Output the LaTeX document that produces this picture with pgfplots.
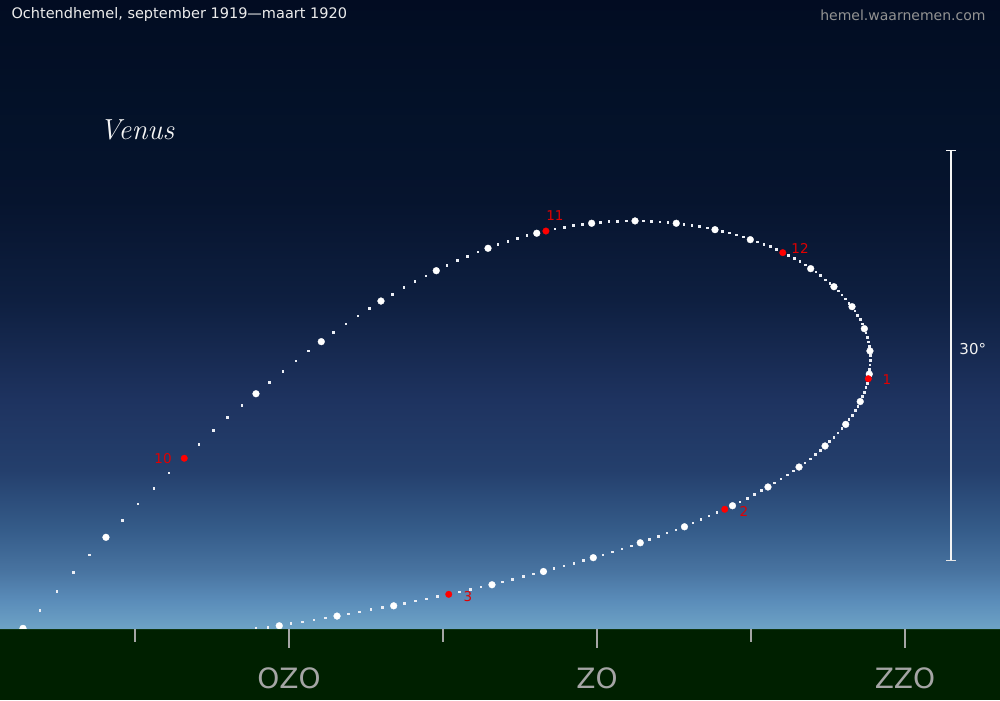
\documentclass[border=0pt]{standalone}
\usepackage{pgfplots}
\pgfplotsset{compat=1.18}
\usepackage{pgfplotstable}
\usepackage{fontspec}
\newfontfamily\dejavu{DejaVu Sans}
\definecolor{ground}{RGB}{0,32,0}
\definecolor{horizonline}{RGB}{14,52,16}
\definecolor{tickgray}{RGB}{165,165,165}
\definecolor{labred}{RGB}{225,0,0}
\definecolor{dotred}{RGB}{255,0,0}
\definecolor{smalldot}{RGB}{235,238,245}
\pgfdeclareverticalshading{sky}{100bp}{
 rgb(0bp)=(0.431,0.639,0.776);
 rgb(25bp)=(0.431,0.639,0.776);
 rgb(27.31bp)=(0.353,0.549,0.725);
 rgb(29.69bp)=(0.282,0.451,0.627);
 rgb(32.87bp)=(0.208,0.361,0.541);
 rgb(37.64bp)=(0.141,0.247,0.424);
 rgb(43.2bp)=(0.118,0.200,0.376);
 rgb(51.15bp)=(0.055,0.122,0.251);
 rgb(59.1bp)=(0.024,0.078,0.180);
 rgb(67.05bp)=(0.012,0.067,0.157);
 rgb(75bp)=(0.008,0.047,0.133);
 rgb(100bp)=(0.008,0.047,0.133)}

% Venus, azimuth (deg) and altitude (deg); big dots every 5 days
\pgfplotstableread{
az alt
93.07 0.05
99.13 6.71
110.09 17.21
114.86 21.02
119.22 23.99
123.26 26.21
127.04 27.85
130.60 28.95
134.61 29.68
137.78 29.85
140.79 29.68
143.62 29.21
146.20 28.48
150.61 26.36
152.31 25.04
153.63 23.58
154.53 21.97
154.94 20.34
154.89 18.65
154.23 16.64
153.17 14.97
151.66 13.39
149.76 11.85
147.49 10.39
144.90 9.02
141.39 7.48
138.16 6.31
134.73 5.22
131.09 4.21
127.33 3.24
120.15 1.70
116.01 0.95
111.79 0.24
}\bigdots

% first of each month: Oct, Nov, Dec, Jan, Feb, Mar
\pgfplotstableread{
az alt
104.85 12.49
131.27 29.11
148.57 27.53
154.82 18.31
144.33 8.76
124.17 2.54
}\reddots

% daily positions
\pgfplotstableread{
az alt
94.31 1.37
95.55 2.76
96.74 4.12
97.94 5.41
100.32 7.95
101.47 9.14
102.64 10.29
103.73 11.41
105.93 13.51
107.00 14.51
108.02 15.46
109.07 16.36
111.06 18.05
112.06 18.85
113.01 19.60
113.94 20.34
115.77 21.67
116.66 22.31
117.54 22.90
118.40 23.46
120.05 24.48
120.90 24.97
121.70 25.41
122.51 25.82
124.04 26.61
124.79 26.94
125.55 27.26
126.31 27.58
127.77 28.11
128.50 28.33
129.18 28.55
129.89 28.77
131.93 29.26
132.61 29.38
133.30 29.50
133.96 29.60
135.24 29.72
135.88 29.79
136.51 29.82
137.14 29.85
138.38 29.85
139.00 29.82
139.60 29.77
140.19 29.72
141.36 29.60
141.94 29.53
142.50 29.43
143.06 29.33
144.15 29.06
144.69 28.97
145.21 28.82
145.72 28.67
146.71 28.31
147.20 28.14
147.66 27.97
148.13 27.75
149.00 27.34
149.41 27.09
149.83 26.87
150.25 26.63
151.00 26.11
151.34 25.84
151.68 25.53
152.01 25.27
152.63 24.72
152.90 24.43
153.17 24.14
153.41 23.82
153.85 23.26
154.04 22.95
154.23 22.63
154.38 22.31
154.65 21.65
154.77 21.34
154.85 20.99
154.89 20.68
154.96 19.99
154.96 19.66
154.94 19.31
154.92 19.00
154.75 17.97
154.65 17.65
154.53 17.31
154.38 16.99
154.07 16.29
153.87 15.97
153.65 15.62
153.41 15.31
152.90 14.65
152.61 14.34
152.31 14.02
152.00 13.70
151.31 13.07
150.95 12.75
150.58 12.44
150.19 12.14
149.34 11.56
148.90 11.27
148.44 10.97
147.98 10.68
147.00 10.12
146.49 9.82
145.98 9.56
145.45 9.29
143.77 8.51
143.18 8.27
142.60 8.00
142.01 7.75
140.76 7.24
140.11 7.02
139.48 6.78
138.82 6.53
137.51 6.07
136.83 5.85
136.15 5.65
135.44 5.41
134.03 5.03
133.32 4.81
132.59 4.61
131.86 4.41
130.35 4.02
129.62 3.83
128.84 3.64
128.08 3.44
126.53 3.07
125.74 2.90
124.97 2.71
123.36 2.36
122.56 2.19
121.76 2.05
120.95 1.88
119.32 1.56
118.49 1.41
117.66 1.24
116.83 1.10
115.18 0.80
114.33 0.66
113.50 0.51
112.65 0.39
110.97 0.12
110.09 0.02
}\smalldots

\begin{document}
\begin{tikzpicture}
\begin{axis}[
  set layers=standard,
  width=1000pt, height=700pt, scale only axis,
  xmin=91.39, xmax=164.44, ymin=-5.19, ymax=46.01,
  axis line style={draw=none}, ticks=none,
  clip=true,
]
\begin{pgfonlayer}{axis background}
\shade[shading=sky] (axis cs:91.39,0) rectangle (axis cs:164.44,46.01);
\end{pgfonlayer}

\addplot[color=smalldot, only marks, mark=square*, mark size=0.8pt,
  mark options={color=smalldot, fill=smalldot, draw=smalldot, line width=0pt}] table[x=az,y=alt] {\smalldots};
\addplot[color=white, only marks, mark=*, mark size=3.4pt,
  mark options={color=white, fill=white, draw=white, line width=0.3pt}] table[x=az,y=alt] {\bigdots};
\addplot[color=dotred, only marks, mark=*, mark size=3.3pt,
  mark options={color=dotred, fill=dotred, draw=dotred, line width=0.3pt}] table[x=az,y=alt] {\reddots};

% month labels
\node[text=labred, font=\dejavu\fontsize{13.5}{15}\selectfont] at (axis cs:103.30,12.44) {10};
\node[text=labred, font=\dejavu\fontsize{13.5}{15}\selectfont] at (axis cs:131.93,30.21) {11};
\node[text=labred, font=\dejavu\fontsize{13.5}{15}\selectfont] at (axis cs:149.83,27.87) {12};
\node[text=labred, font=\dejavu\fontsize{13.5}{15}\selectfont] at (axis cs:156.18,18.21) {1};
\node[text=labred, font=\dejavu\fontsize{13.5}{15}\selectfont] at (axis cs:145.74,8.63) {2};
\node[text=labred, font=\dejavu\fontsize{13.5}{15}\selectfont] at (axis cs:125.58,2.41) {3};

% 30 degree scale bar
\draw[white!92!gray, line width=1.5pt] (axis cs:160.86,5) -- (axis cs:160.86,35);
\draw[white!92!gray, line width=1.5pt] (axis cs:160.50,35) -- (axis cs:161.22,35);
\draw[white!80!gray, line width=1.5pt] (axis cs:160.50,5) -- (axis cs:161.22,5);
\node[text=white!90!gray, font=\dejavu\fontsize{15}{17}\selectfont] at (axis cs:162.45,20.45) {30°};

% texts
\node[anchor=west, text=white!85!gray, font=\dejavu\fontsize{14.5}{16}\selectfont] at (rel axis cs:0.008,0.9786) {Ochtendhemel, september 1919—maart 1920};
\node[anchor=east, text=gray!85!white, font=\dejavu\fontsize{14}{16}\selectfont] at (rel axis cs:0.989,0.9786) {hemel.waarnemen.com};
\node[anchor=base west, text=white!92!gray, font=\itshape\fontsize{29}{32}\selectfont] at (rel axis cs:0.096,0.80) {Venus};

\begin{pgfonlayer}{axis foreground}
\fill[ground] (axis cs:91.39,-5.19) rectangle (axis cs:164.44,0);
\draw[horizonline, line width=1.5pt] (axis cs:91.39,-0.05) -- (axis cs:164.44,-0.05);
\pgfplotsinvokeforeach{101.25,123.75,146.25}{
  \draw[tickgray, line width=2.5pt] (axis cs:#1,0) -- (axis cs:#1,-0.95);
}
\pgfplotsinvokeforeach{112.5,135,157.5}{
  \draw[tickgray, line width=2.5pt] (axis cs:#1,0) -- (axis cs:#1,-1.42);
}
\node[text=tickgray, font=\dejavu\fontsize{28}{30}\selectfont] at (axis cs:112.5,-3.6) {OZO};
\node[text=tickgray, font=\dejavu\fontsize{28}{30}\selectfont] at (axis cs:135,-3.6) {ZO};
\node[text=tickgray, font=\dejavu\fontsize{28}{30}\selectfont] at (axis cs:157.5,-3.6) {ZZO};
\end{pgfonlayer}
\end{axis}
\end{tikzpicture}
\end{document}
